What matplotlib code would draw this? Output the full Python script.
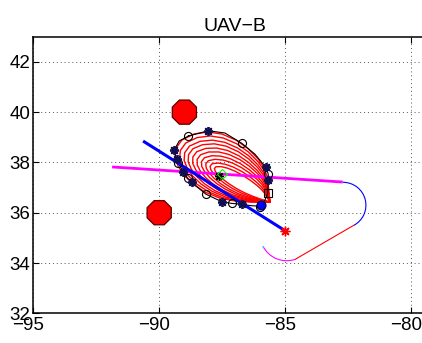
import numpy as np
import matplotlib
matplotlib.use("Agg")
import matplotlib.pyplot as plt
import matplotlib.transforms as mtransforms
from matplotlib.patches import Arc, RegularPolygon

plt.rcParams['font.family'] = ['Liberation Sans', 'DejaVu Sans']

# ---- data (lon / lat) ----
title = "UAV\u2212B"
x_ticks = [-95, -90, -85, -80]
y_ticks = [32, 34, 36, 38, 40, 42]

# obstacles
obs_x = [-89.0, -90.0]
obs_y = [40.0, 36.0]
obs_r = [0.52, 0.52]

# straight blue track and its end point
blue_x = [-90.64, -85.04]
blue_y = [38.85, 35.31]
end_x = [-85.02]
end_y = [35.29]

# magenta leg, turn arcs and red leg
mag_x = [-91.87, -82.71]
mag_y = [37.82, 37.22]
red_leg_x = [-84.61, -82.29]
red_leg_y = [34.14, 35.49]
arc_blue = dict(cx=-82.70, cy=36.30, r=0.91, t1=-63.0, t2=90.0)
arc_mag = dict(cx=-84.94, cy=35.14, r=1.05, t1=206.5, t2=288.5)

# outermost red contour (closed at the apex)
apex_x, apex_y = -85.60, 36.42
cont_x = [-85.60, -85.66, -85.72, -85.84, -86.08, -86.47, -86.95, -87.51, -88.06,
          -88.62, -89.10, -89.33, -89.37, -89.25, -89.02, -88.66, -88.18, -87.59,
          -86.95, -86.32, -85.60]
cont_y = [36.42, 36.98, 37.45, 37.80, 38.15, 38.55, 38.89, 39.13, 39.21,
          39.13, 38.89, 38.57, 38.21, 37.86, 37.50, 37.14, 36.82, 36.58,
          36.46, 36.42, 36.42]
# inner contours: scale of the outermost one along its long axis / across it
axis_deg = 148.0
c_long = [0.60, 0.645, 0.69, 0.735, 0.78, 0.825, 0.87, 0.91, 0.955, 1.0]
c_wide = [0.24, 0.32, 0.41, 0.49, 0.58, 0.66, 0.75, 0.83, 0.92, 1.0]

# outline around the contours
out_x = [-88.84, -88.05, -87.39, -86.72, -86.20, -85.76, -85.67, -85.67, -85.69,
         -85.80, -86.00, -86.35, -86.72, -87.12, -87.52, -88.15, -88.71, -88.87,
         -89.04, -89.24, -89.31, -89.40, -89.21, -88.84]
out_y = [39.05, 39.26, 39.17, 38.76, 38.33, 37.80, 37.54, 37.30, 36.77,
         36.50, 36.26, 36.28, 36.34, 36.37, 36.44, 36.74, 37.21, 37.37,
         37.63, 37.96, 38.12, 38.49, 38.85, 39.05]

circ_x = [-88.84, -86.72, -85.67, -86.00, -87.12, -88.15, -88.87, -89.24]
circ_y = [39.05, 38.76, 37.54, 36.24, 36.37, 36.74, 37.37, 37.96]
star_x = [-88.05, -89.40, -89.31, -89.04, -88.71, -87.52, -86.72, -85.76, -85.67]
star_y = [39.26, 38.49, 38.12, 37.63, 37.21, 36.44, 36.34, 37.80, 37.30]
sq_x, sq_y = [-85.69], [36.77]
dot_x, dot_y = [-85.96], [36.30]
center_x, center_y = [-87.61], [37.48]
diam_x, diam_y = [-87.49], [37.55]

# ---- figure ----
fig = plt.figure(figsize=(4.22, 3.43), dpi=100)
W, H = 422, 343
left_px, bottom_px, top_px = 33.3, 313.3, 36.7
xlim = (-95, -79)
ylim = (32, 43)
ppu = 25.18
ax = fig.add_axes([left_px / W, (H - bottom_px) / H,
                   (xlim[1] - xlim[0]) * ppu / W, (bottom_px - top_px) / H])
ax.set_xlim(*xlim)
ax.set_ylim(*ylim)
ax.set_autoscale_on(False)
ax.set_xticks(x_ticks)
ax.set_yticks(y_ticks)
ax.grid(True, color='#555555', linestyle=(0, (1, 3)), linewidth=0.7)
ax.tick_params(direction='in', length=4, width=0.8, top=True, right=False,
               labelsize=13.5)
ax.tick_params(axis='x', pad=3)
ax.tick_params(axis='y', pad=2)
for s in ax.spines.values():
    s.set_linewidth(1.1)
ax.spines['right'].set_visible(False)
ax.set_title(title, fontsize=14, pad=4)
shift = mtransforms.ScaledTranslation(-5.0 / 100, 0, fig.dpi_scale_trans)
for lab in ax.get_xticklabels():
    lab.set_transform(lab.get_transform() + shift)

# obstacles
for ox, oy, rr in zip(obs_x, obs_y, obs_r):
    ax.add_patch(RegularPolygon((ox, oy), numVertices=8, radius=rr,
                                orientation=np.pi / 8, facecolor='#ff0000',
                                edgecolor='#5a0000', linewidth=0.9, zorder=3))

# contours
e1 = np.array([np.cos(np.deg2rad(axis_deg)), np.sin(np.deg2rad(axis_deg))])
e2 = np.array([-e1[1], e1[0]])
dx = np.array(cont_x) - apex_x
dy = np.array(cont_y) - apex_y
cu = dx * e1[0] + dy * e1[1]
cn = dx * e2[0] + dy * e2[1]
for sl, sw in zip(c_long, c_wide):
    xs = apex_x + sl * cu * e1[0] + sw * cn * e2[0]
    ys = apex_y + sl * cu * e1[1] + sw * cn * e2[1]
    ax.plot(xs, ys, color='#ff0000', lw=1.0, zorder=4)

# outline
ax.plot(out_x, out_y, color='k', lw=0.8, zorder=5)

# path
ax.plot(mag_x, mag_y, color='#ff00ff', lw=2.0, zorder=4, solid_capstyle='butt')
ax.add_patch(Arc((arc_blue['cx'], arc_blue['cy']), 2 * arc_blue['r'], 2 * arc_blue['r'],
                 theta1=arc_blue['t1'], theta2=arc_blue['t2'], color='#0000ff', lw=0.8, zorder=4))
ax.plot(red_leg_x, red_leg_y, color='#ff0000', lw=0.8, zorder=4)
ax.add_patch(Arc((arc_mag['cx'], arc_mag['cy']), 2 * arc_mag['r'], 2 * arc_mag['r'],
                 theta1=arc_mag['t1'], theta2=arc_mag['t2'], color='#ff00ff', lw=0.8, zorder=4))
ax.add_patch(Arc((arc_mag['cx'], arc_mag['cy']), 2 * arc_mag['r'], 2 * arc_mag['r'],
                 theta1=arc_mag['t1'], theta2=arc_mag['t1'] + 3, color='#00ffff', lw=1.2, zorder=4))
ax.plot(blue_x, blue_y, color='#0000ff', lw=2.2, zorder=6, solid_capstyle='butt')
ax.plot(end_x, end_y, marker=(8, 2, 0), color='#ff0000', ms=7, mew=1.0, ls='none', zorder=7)

# markers on outline
ax.plot(circ_x, circ_y, marker='o', mfc='none', mec='k', ms=5.8, mew=0.8, ls='none', zorder=7)
ax.plot(star_x, star_y, marker=(8, 2, 0), color='#101050', ms=6.5, mew=1.3, ls='none', zorder=7)
ax.plot(sq_x, sq_y, marker='s', mfc='none', mec='k', ms=5.5, mew=0.8, ls='none', zorder=7)
ax.plot(dot_x, dot_y, marker='o', mfc='#0000ff', mec='#000040', ms=6.5, mew=0.8, ls='none', zorder=7)
ax.plot(center_x, center_y, marker=(8, 2, 0), color='k', ms=6.5, mew=1.0, ls='none', zorder=7)
ax.plot(diam_x, diam_y, marker='D', mfc='none', mec='#00ff00', ms=5, mew=0.8, ls='none', zorder=7)

fig.savefig('out.png', dpi=100)
